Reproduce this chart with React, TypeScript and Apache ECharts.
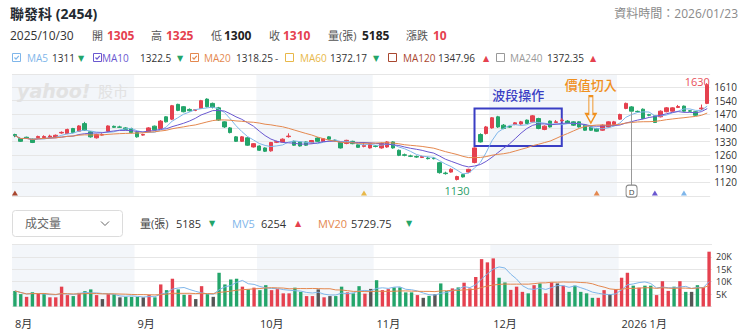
import React, { useEffect, useRef } from "react";
import * as echarts from "echarts";

const FONT = '"Open Sans", "Noto Sans CJK TC", sans-serif';
const RED = "#e5414f";
const GREEN = "#23a56a";
const FLAT = "#555555";
const BAND = "#f3f6fa";
const MA5_C = "#7fb6ea";
const MA10_C = "#6a58d0";
const MA20_C = "#e4884f";
const MA60_C = "#e8b84a";
const MA120_C = "#a9472f";
const MA240_C = "#999999";

// ---- calendar ----
const firstDay = "2025-08-01";
const lastDay = "2026-01-23";
const holidays = ["2025-09-29", "2025-10-06", "2025-10-10", "2025-10-24", "2025-12-25", "2026-01-01"];

// ---- daily prices (TWD) ----
const opens = [1366,1345,1352,1342,1350,1350,1352,1350,1374,1371, 1397,1383,1422,1380,1349,1363,1383,1408,1405,1400, 1397,1376,1363,1380,1409,1397,1457,1445,1521,1509, 1495,1490,1500,1548,1526,1503,1431,1400,1354,1331, 1349,1302,1307,1297,1282,1326,1328,1355,1331,1328, 1328,1323,1348,1331,1354,1337,1325,1320,1331,1313, 1305,1297,1307,1297,1302,1328,1285,1262,1256,1253, 1248,1245,1244,1221,1168,1173,1135,1160,1173,1222, 1366,1371,1400,1457,1414,1407,1418,1420,1440,1431, 1448,1392,1435,1428,1437,1435,1431,1431,1414,1405, 1397,1388,1405,1418,1445,1500,1508,1485,1496,1468, 1462,1457,1483,1486,1505,1512,1488,1483,1498,1526];
const closes = [1360,1331,1347,1325,1356,1356,1358,1362,1377,1392, 1376,1410,1388,1354,1366,1366,1410,1403,1403,1392, 1376,1354,1366,1400,1390,1435,1431,1514,1490,1483, 1488,1493,1540,1509,1505,1440,1405,1376,1331,1354, 1311,1319,1285,1280,1325,1329,1342,1358,1311,1307, 1311,1335,1331,1345,1342,1335,1297,1336,1319,1300, 1310,1320,1305,1320,1328,1297,1259,1259,1254,1250, 1253,1242,1242,1170,1165,1187,1150,1148,1187,1297, 1328,1405,1452,1405,1397,1404,1426,1431,1423,1462, 1397,1409,1405,1431,1440,1425,1414,1405,1388,1388, 1383,1414,1431,1431,1469,1526,1486,1483,1448,1465, 1428,1486,1503,1503,1510,1486,1486,1465,1502,1622];
const lows = [1352,1328,1344,1322,1347,1348,1349,1348,1370,1368, 1372,1380,1385,1350,1345,1360,1380,1400,1400,1388, 1372,1350,1360,1377,1387,1393,1428,1440,1486,1480, 1484,1486,1497,1505,1500,1436,1400,1372,1328,1328, 1308,1299,1282,1276,1278,1322,1325,1350,1308,1304, 1307,1320,1328,1328,1338,1331,1294,1316,1316,1298, 1300,1294,1300,1293,1298,1293,1255,1254,1250,1246, 1245,1238,1238,1165,1160,1170,1130,1145,1170,1218, 1325,1366,1396,1400,1393,1400,1414,1416,1420,1428, 1393,1388,1402,1425,1432,1421,1410,1402,1385,1385, 1380,1385,1402,1415,1441,1496,1483,1479,1445,1460, 1425,1454,1480,1483,1502,1483,1482,1462,1492,1522];
const highs = [1370,1348,1355,1345,1360,1362,1365,1366,1382,1396, 1400,1414,1431,1384,1370,1372,1413,1412,1411,1404, 1401,1380,1370,1404,1412,1440,1460,1518,1524,1512, 1500,1496,1544,1552,1530,1508,1434,1404,1358,1358, 1352,1322,1310,1300,1328,1334,1346,1372,1335,1332, 1331,1338,1352,1348,1357,1340,1328,1339,1334,1316, 1325,1323,1312,1325,1332,1331,1289,1268,1262,1258, 1257,1252,1250,1225,1175,1192,1154,1163,1190,1300, 1372,1410,1456,1462,1420,1412,1430,1436,1443,1466, 1452,1413,1438,1440,1450,1440,1434,1434,1418,1408, 1400,1418,1434,1436,1473,1530,1512,1489,1500,1472, 1466,1490,1507,1506,1518,1515,1492,1486,1520,1630];
// ---- volume (張) and day change sign vs previous close ----
const volumes = [6300,5000,3900,5700,5300,5300,3700,3700,8000,4600, 4200,5500,6200,6900,4600,3000,5000,5000,3700,3900, 3900,3900,3700,4600,3700,8900,6600,11200,6900,4700, 4700,3000,8200,5000,3900,13600,8900,10900,11200,8000, 6900,7600,6600,8600,6600,7000,5300,5300,7600,5900, 4200,4200,6900,3700,4200,4200,8000,5700,5300,8200, 5185,7100,10600,6600,7000,7700,7700,5700,5700,4600, 3500,4300,4900,9300,6200,7300,7700,9600,7300,11900, 19100,17800,19400,11600,9700,6700,8000,5900,5300,8600, 9300,5300,9700,9300,8400,5900,8400,5900,5300,3500, 3500,6600,4900,7000,11600,13600,8400,7600,8400,8400, 4600,10200,6300,8000,10200,5900,5900,8600,7600,22100];
const changeSign = [-1,-1,1,-1,1,-1,1,1,1,1, -1,1,-1,-1,1,0,1,-1,0,-1, -1,-1,0,1,-1,1,-1,1,-1,-1, 1,0,1,-1,0,-1,-1,-1,-1,1, -1,1,-1,-1,1,1,1,1,-1,-1, 1,1,0,1,0,-1,-1,1,-1,-1, 1,0,-1,1,1,-1,-1,-1,-1,1, 0,-1,0,-1,-1,1,-1,1,1,1, 1,1,1,-1,-1,1,1,1,-1,1, -1,1,1,0,1,-1,-1,-1,-1,-1, 1,1,0,1,1,1,-1,1,-1,-1, 1,1,1,-1,1,-1,0,-1,1,1];

// ---- header / legend texts ----
const stockTitle = "聯發科 (2454)";
const dataTime = "資料時間：2026/01/23";
const focusDate = "2025-10-30";
const maLegend = [
  { name: "MA5", value: "1311", trend: "down", checked: true },
  { name: "MA10", value: "1322.5", trend: "down", checked: true },
  { name: "MA20", value: "1318.25", trend: "flat", checked: true },
  { name: "MA60", value: "1372.17", trend: "down", checked: false },
  { name: "MA120", value: "1347.96", trend: "up", checked: false },
  { name: "MA240", value: "1372.35", trend: "up", checked: false },
];
const volLegend = [
  { name: "量(張)", value: "5185", trend: "down" },
  { name: "MV5", value: "6254", trend: "up" },
  { name: "MV20", value: "5729.75", trend: "down" },
];

// ---- annotations ----
const waveBox = { from: "2025-11-26", to: "2025-12-17", top: 1500, bottom: 1307, text: "波段操作" };
const valueEntry = { date: "2025-12-24", price: 1494, text: "價值切入" };
const dividendDate = "2026-01-06";
const crossSignals = [
  { date: "2025-08-01", ma: "MA120" },
  { date: "2025-10-30", ma: "MA60" },
  { date: "2025-12-26", ma: "MA20" },
  { date: "2026-01-12", ma: "MA10" },
  { date: "2026-01-19", ma: "MA5" },
];

// ---- axes ----
const priceMin = 1050;
const priceMax = 1677;
const priceStep = 70;
const volMax = 25000;
const volStep = 5000;

function tradingDays(start: string, end: string, skip: string[]) {
  const out: string[] = [];
  const d = new Date(start + "T00:00:00Z");
  const e = new Date(end + "T00:00:00Z");
  while (d <= e) {
    const wd = d.getUTCDay();
    const s = d.toISOString().slice(0, 10);
    if (wd !== 0 && wd !== 6 && !skip.includes(s)) out.push(s);
    d.setUTCDate(d.getUTCDate() + 1);
  }
  return out;
}

function movingAvg(arr: number[], n: number) {
  return arr.map((_, i) => {
    const w = arr.slice(Math.max(0, i - n + 1), i + 1);
    return +(w.reduce((a, b) => a + b, 0) / w.length).toFixed(2);
  });
}

const maColor: Record<string, string> = {
  MA5: MA5_C, MA10: MA10_C, MA20: MA20_C, MA60: MA60_C, MA120: MA120_C, MA240: MA240_C,
};

function txt(x: number, y: number, text: string, fill: string, size = 12, weight: any = "normal", align = "left", family = FONT) {
  return {
    type: "text", x, y, z: 100, silent: true,
    style: { text, fill, fontSize: size, fontWeight: weight, fontFamily: family, textAlign: align, textVerticalAlign: "middle", align, verticalAlign: "middle" },
  };
}
function tri(x: number, y: number, trend: string) {
  if (trend === "flat") return txt(x, y, "-", "#555", 10);
  return txt(x, y, trend === "up" ? "▲" : "▼", trend === "up" ? RED : GREEN, 8, "normal", "left", '"DejaVu Sans", sans-serif');
}

function buildOption() {
  const dates = tradingDays(firstDay, lastDay, holidays).slice(0, closes.length);
  const n = dates.length;
  const monthStarts = dates.map((d, i) => i).filter((i) => i === 0 || dates[i].slice(0, 7) !== dates[i - 1].slice(0, 7));
  const isStart = new Set(monthStarts);
  const bands: number[][] = [];
  monthStarts.forEach((s, k) => {
    if (k % 2 === 0) bands.push([s, (k + 1 < monthStarts.length ? monthStarts[k + 1] : n) - 1]);
  });

  const candles = dates.map((_, i) => [opens[i], closes[i], lows[i], highs[i]]);
  const ma5 = movingAvg(closes, 5);
  const ma10 = movingAvg(closes, 10);
  const ma20 = movingAvg(closes, 20);
  const mv5 = movingAvg(volumes, 5);
  const mv20 = movingAvg(volumes, 20);
  const volData = volumes.map((v, i) => ({
    value: v,
    itemStyle: { color: changeSign[i] > 0 ? RED : changeSign[i] < 0 ? GREEN : FLAT },
  }));

  const fi = dates.indexOf(focusDate);
  const chg = closes[fi] - closes[fi - 1];
  const divIdx = dates.indexOf(dividendDate);

  const bandSeries = (axis: number) => ({
    type: "custom",
    xAxisIndex: axis,
    yAxisIndex: axis,
    z: -1,
    silent: true,
    data: bands,
    encode: { x: 0 },
    renderItem: (params: any, api: any) => {
      const s = api.coord([api.value(0), 0]);
      const e = api.coord([api.value(1), 0]);
      const w = api.size([1, 0])[0];
      const cs = params.coordSys;
      return {
        type: "rect",
        shape: { x: s[0] - w / 2, y: cs.y, width: e[0] - s[0] + w, height: cs.height },
        style: { fill: BAND },
      };
    },
  });

  // graphics: header, legend, volume header, watermark
  const g: any[] = [];
  g.push(txt(10, 13, stockTitle, "#232a31", 14, "bold"));
  g.push(txt(738, 13, dataTime, "#8a8a8a", 12, "normal", "right"));
  g.push(txt(10, 35, focusDate.replace(/-/g, "/"), "#333", 12));
  const hdr = [
    ["開", String(opens[fi]), RED, 92, 107],
    ["高", String(highs[fi]), RED, 151, 166],
    ["低", String(lows[fi]), "#222", 211, 224],
    ["收", String(closes[fi]), RED, 269, 283],
    ["量(張)", String(volumes[fi]), "#222", 328, 362],
    ["漲跌", String(chg), chg > 0 ? RED : chg < 0 ? GREEN : "#222", 406, 433],
  ] as any[];
  hdr.forEach(([l, v, c, x1, x2]) => {
    g.push(txt(x1, 35, l, "#555", 11));
    g.push(txt(x2, 35, v, c, 12, "bold"));
  });

  const legX = [
    [12, 27, 52, 78],
    [93, 102, 140, 177],
    [190, 204, 236, 275],
    [285, 300, 330, 373],
    [388, 403, 438, 483],
    [496, 510, 547, 590],
  ];
  maLegend.forEach((m, k) => {
    const [bx, nx, vx, tx] = legX[k];
    const col = maColor[m.name];
    g.push({ type: "rect", z: 100, silent: true, shape: { x: bx + 0.5, y: 53.5, width: 8, height: 8 }, style: { fill: "#fff", stroke: col, lineWidth: 1 } });
    if (m.checked)
      g.push({ type: "polyline", z: 101, silent: true, shape: { points: [[bx + 2.5, 57.5], [bx + 4, 59.2], [bx + 6.8, 55.8]] }, style: { stroke: col, lineWidth: 1.2, fill: null } });
    g.push(txt(nx, 58, m.name, col, 10));
    g.push(txt(vx, 58, m.value, "#333", 10));
    g.push(tri(tx, 58, m.trend));
  });

  g.push({ type: "rect", z: 100, silent: true, shape: { x: 12.5, y: 210.5, width: 110, height: 26, r: 3 }, style: { fill: "#fff", stroke: "#dcdcdc", lineWidth: 1 } });
  g.push(txt(25, 223.5, "成交量", "#666", 12));
  g.push({ type: "polyline", z: 101, silent: true, shape: { points: [[101, 221.5], [105, 225.5], [109, 221.5]] }, style: { stroke: "#666", lineWidth: 1, fill: null } });
  const volX = [[140, 176, 209], [232, 261, 295], [318, 351, 406]];
  const volCol = ["#444", MA5_C, MA20_C];
  volLegend.forEach((m, k) => {
    g.push(txt(volX[k][0], 223.5, m.name, volCol[k], 11));
    g.push(txt(volX[k][1], 223.5, m.value, "#333", 11));
    g.push(tri(volX[k][2], 223.5, m.trend));
  });

  g.push({ type: "text", x: 17, y: 91, z: 1, silent: true, style: { text: "yahoo!", fill: "#e2e2e2", fontSize: 19, fontWeight: "bold", fontStyle: "italic", fontFamily: '"DejaVu Sans", sans-serif', verticalAlign: "middle", textVerticalAlign: "middle" } });
  g.push({ type: "text", x: 98, y: 91, z: 1, silent: true, style: { text: "股市", fill: "#e2e2e2", fontSize: 15, fontFamily: FONT, verticalAlign: "middle", textVerticalAlign: "middle" } });

  const hidden = { show: false };
  return {
    animation: false,
    textStyle: { fontFamily: FONT },
    graphic: g,
    grid: [
      { left: 12, right: 28, top: 74, height: 122 },
      { left: 12, right: 28, top: 244.5, height: 62 },
    ],
    xAxis: [
      { type: "category", gridIndex: 0, data: dates, axisLine: hidden, axisTick: hidden, axisLabel: hidden, splitLine: hidden },
      {
        type: "category", gridIndex: 1, data: dates, axisLine: hidden, axisTick: hidden, splitLine: hidden,
        axisLabel: {
          interval: (i: number) => isStart.has(i),
          formatter: (v: string) => {
            const m = +v.slice(5, 7);
            return m === 1 ? `${v.slice(0, 4)} ${m}月` : `${m}月`;
          },
          align: "left", margin: 11, fontSize: 11, color: "#333",
        },
      },
    ],
    yAxis: [
      {
        type: "value", gridIndex: 0, position: "right", min: priceMin, max: priceMax, interval: priceStep,
        axisLine: hidden, axisTick: hidden,
        axisLabel: { showMinLabel: false, showMaxLabel: false, margin: 4, fontSize: 10, lineHeight: 10, color: "#333", formatter: (v: number) => String(v) },
        splitLine: { lineStyle: { color: "#e6e6e6", width: 1 } },
      },
      {
        type: "value", gridIndex: 1, position: "right", min: 0, max: volMax, interval: volStep,
        axisLine: hidden, axisTick: hidden,
        axisLabel: { showMinLabel: false, showMaxLabel: false, margin: 4, fontSize: 9, lineHeight: 9, color: "#333", formatter: (v: number) => `${v / 1000}K` },
        splitLine: { lineStyle: { color: "#e6e6e6", width: 1 } },
      },
    ],
    series: [
      bandSeries(0),
      bandSeries(1),
      {
        type: "candlestick",
        name: "K",
        xAxisIndex: 0, yAxisIndex: 0,
        data: candles,
        barWidth: "68%",
        itemStyle: { color: RED, color0: GREEN, borderColor: RED, borderColor0: GREEN, borderWidth: 1 },
        markLine: {
          silent: true, symbol: ["none", "none"], label: hidden,
          lineStyle: { color: "#999", width: 1, type: "solid" },
          data: [[{ coord: [dividendDate, lows[divIdx]] }, { coord: [dividendDate, priceMin + 56] }]],
        },
        markArea: {
          silent: true,
          itemStyle: { color: "rgba(0,0,0,0)", borderColor: "#3a3ec4", borderWidth: 2 },
          label: { show: true, position: "top", distance: 6, color: "#3a3ec4", fontSize: 13, fontWeight: 500, formatter: waveBox.text },
          data: [[{ coord: [waveBox.from, waveBox.top] }, { coord: [waveBox.to, waveBox.bottom] }]],
        },
        markPoint: {
          silent: true,
          data: [
            {
              type: "max", valueDim: "highest", symbol: "circle", symbolSize: 1, itemStyle: { color: "rgba(0,0,0,0)" },
              label: { show: true, position: "inside", offset: [-10, -2], color: "#e8505b", fontSize: 11, formatter: (p: any) => String(p.value) },
            },
            {
              type: "min", valueDim: "lowest", symbol: "circle", symbolSize: 1, itemStyle: { color: "rgba(0,0,0,0)" },
              label: { show: true, position: "inside", offset: [0, 10], color: "#2a9d66", fontSize: 11, formatter: (p: any) => String(p.value) },
            },
            {
              coord: [valueEntry.date, valueEntry.price],
              symbol: "path://M3,0 L7,0 L7,18 L10,18 L5,27 L0,18 L3,18 Z", symbolSize: [10, 27],
              itemStyle: { color: "rgba(0,0,0,0)", borderColor: "#f0901e", borderWidth: 1.5 },
              label: { show: true, position: "top", distance: 3, color: "#f0901e", fontSize: 13, fontWeight: 500, formatter: valueEntry.text },
            },
            {
              coord: [dividendDate, priceMin + 25],
              symbol: "roundRect", symbolSize: [11, 12],
              itemStyle: { color: "#fff", borderColor: "#888", borderWidth: 1 },
              label: { show: true, position: "inside", color: "#444", fontSize: 8, formatter: "D" },
            },
            ...crossSignals.map((c) => ({
              coord: [c.date, priceMin + 15],
              symbol: "triangle", symbolSize: [6, 5],
              itemStyle: { color: maColor[c.ma] },
              label: hidden,
            })),
          ],
        },
      },
      { type: "line", name: "MA5", xAxisIndex: 0, yAxisIndex: 0, data: ma5, symbol: "none", lineStyle: { color: MA5_C, width: 1 }, itemStyle: { color: MA5_C }, silent: true },
      { type: "line", name: "MA10", xAxisIndex: 0, yAxisIndex: 0, data: ma10, symbol: "none", lineStyle: { color: MA10_C, width: 1 }, itemStyle: { color: MA10_C }, silent: true },
      { type: "line", name: "MA20", xAxisIndex: 0, yAxisIndex: 0, data: ma20, symbol: "none", lineStyle: { color: MA20_C, width: 1 }, itemStyle: { color: MA20_C }, silent: true },
      { type: "bar", name: "量", xAxisIndex: 1, yAxisIndex: 1, data: volData, barWidth: "58%", silent: true },
      { type: "line", name: "MV5", xAxisIndex: 1, yAxisIndex: 1, data: mv5, symbol: "none", lineStyle: { color: MA5_C, width: 1 }, itemStyle: { color: MA5_C }, silent: true },
      { type: "line", name: "MV20", xAxisIndex: 1, yAxisIndex: 1, data: mv20, symbol: "none", lineStyle: { color: MA20_C, width: 1 }, itemStyle: { color: MA20_C }, silent: true },
    ],
  };
}

export default function App() {
  const ref = useRef<HTMLDivElement>(null);
  useEffect(() => {
    if (!ref.current) return;
    const chart = echarts.init(ref.current, null, { renderer: "svg" });
    chart.setOption(buildOption() as any);
    return () => chart.dispose();
  }, []);
  return <div ref={ref} style={{ position: "absolute", left: 0, top: 0, width: 740, height: 332, background: "#fff" }} />;
}
